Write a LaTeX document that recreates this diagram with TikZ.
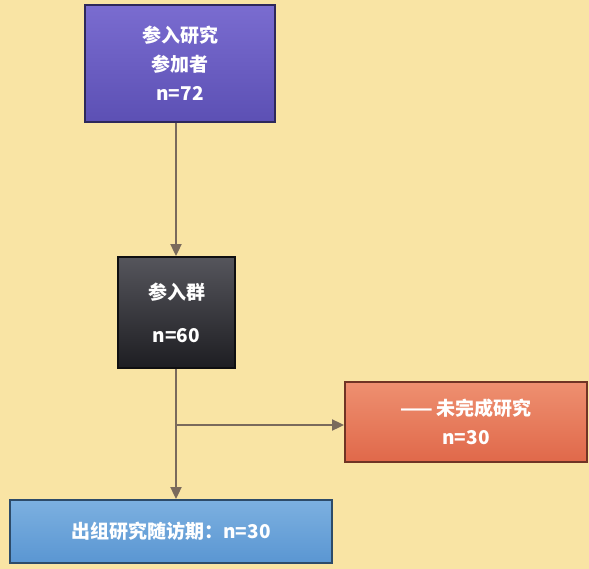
\documentclass[tikz,border=0pt]{standalone}
\usepackage{fontspec}
\setmainfont{Noto Sans CJK SC}
\usetikzlibrary{arrows.meta}
\definecolor{bg}{HTML}{F9E4A4}
\definecolor{pur}{HTML}{5C50B4}
\definecolor{purl}{HTML}{7A6CD0}
\definecolor{blk}{HTML}{1E1E22}
\definecolor{blkl}{HTML}{55555C}
\definecolor{org}{HTML}{E0684A}
\definecolor{orgl}{HTML}{EE9070}
\definecolor{blu}{HTML}{5A96D2}
\definecolor{blul}{HTML}{7CB0E0}
\definecolor{arr}{HTML}{7A6A5C}
\begin{document}
\begin{tikzpicture}[x=1pt,y=-1pt,
  box/.style={draw=#1!50!black,line width=1.8pt,text=white,align=center,font=\fontsize{19}{29}\selectfont\bfseries,inner sep=0pt},
  conn/.style={draw=arr,line width=1.8pt,-{Triangle[length=12pt,width=11pt]}}]
\fill[bg] (0,0) rectangle (589,569);
\useasboundingbox (0,0) rectangle (589,569);
\node[box=pur,top color=purl,bottom color=pur,minimum width=190pt,minimum height=117pt] (a) at (180,63.5) {参入研究\\参加者\\n=72};
\node[box=blk,top color=blkl,bottom color=blk,minimum width=117pt,minimum height=111pt] (b) at (176.5,312.5) {参入群\\[14pt]n=60};
\node[box=org,top color=orgl,bottom color=org,minimum width=242pt,minimum height=80pt] (c) at (466,422) {—— 未完成研究\\n=30};
\node[box=blu,top color=blul,bottom color=blu,minimum width=322pt,minimum height=63pt] (d) at (171,531.5) {出组研究随访期：n=30};
\coordinate (j) at (176,425);
\draw[conn] (a.south -| 176,0) -- (b.north -| 176,0);
\draw[conn] (b.south -| 176,0) -- (d.north -| 176,0);
\draw[conn] (j) -- (c.west |- j);
\end{tikzpicture}
\end{document}
